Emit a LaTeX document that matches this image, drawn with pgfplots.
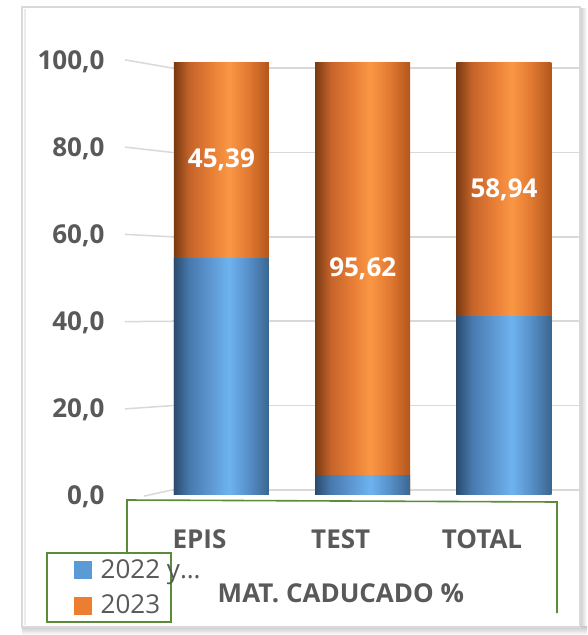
\documentclass[border=0pt]{standalone}
\usepackage{pgfplots}
\usepackage{pgfplotstable}
\pgfplotsset{compat=1.18}
\usepackage{fontspec}
\setmainfont{Open Sans}
\definecolor{gridc}{HTML}{D9D9D9}
\definecolor{tickc}{HTML}{595959}
\definecolor{greenb}{HTML}{5B8C3A}
\definecolor{cblue}{HTML}{5B9BD5}
\definecolor{corange}{HTML}{ED7D31}
\definecolor{oA}{HTML}{7A3A12}
\definecolor{oB}{HTML}{C4632A}
\definecolor{oC}{HTML}{E67C35}
\definecolor{oD}{HTML}{FA9744}
\definecolor{oE}{HTML}{E27A32}
\definecolor{oF}{HTML}{B2561C}
\definecolor{bA}{HTML}{2B4C6E}
\definecolor{bB}{HTML}{4779AD}
\definecolor{bC}{HTML}{5D97D2}
\definecolor{bD}{HTML}{6DB3EF}
\definecolor{bE}{HTML}{5890CA}
\definecolor{bF}{HTML}{3A6690}
\pgfdeclarehorizontalshading{ocyl}{100bp}{color(0bp)=(oA); color(25bp)=(oA); color(33bp)=(oB); color(44bp)=(oC); color(54bp)=(oD); color(64bp)=(oE); color(75bp)=(oF); color(100bp)=(oF)}
\pgfdeclarehorizontalshading{bcyl}{100bp}{color(0bp)=(bA); color(25bp)=(bA); color(33bp)=(bB); color(44bp)=(bC); color(54bp)=(bD); color(64bp)=(bE); color(75bp)=(bF); color(100bp)=(bF)}

% a = 2022 y..., b = 2023
\pgfplotstableread{
x a b lab
0 54.61 45.39 45,39
1 4.38 95.62 95,62
2 41.06 58.94 58,94
}\data

\begin{document}
\begin{tikzpicture}
\useasboundingbox (0,0) rectangle (587pt,-635pt);
\fill[white] (0,0) rectangle (587pt,-635pt);
% frame
\shade[left color=gray!45, right color=white] (579pt,-8pt) rectangle (587pt,-632pt);
\shade[top color=gray!45, bottom color=white] (22pt,-626pt) rectangle (587pt,-635pt);
\draw[gray!30, line width=1.5pt] (22pt,-7pt) rectangle (580pt,-627pt);
\draw[gray!15, line width=2pt] (25pt,-9pt) -- (25pt,-625pt);
% green box
\draw[greenb, line width=1.6pt] (127pt,-552pt) -- (127pt,-500pt) -- (557pt,-502pt) -- (557pt,-613pt);
% legend box
\draw[greenb, line width=1.6pt, fill=white] (47pt,-553pt) rectangle (171pt,-622pt);
\begin{axis}[
  at={(172pt,-494pt)}, anchor=south west,
  scale only axis, width=408pt, height=432pt,
  xmin=-0.350, xmax=2.538, ymin=0, ymax=100,
  clip=false,
  ybar, bar width=95pt, bar shift=0pt,
  axis line style={draw=none},
  major tick length=0pt,
  ymajorgrids, grid style={gridc, line width=1.5pt},
  % back-wall gridlines (perspective) sit slightly off the bar scale
  ytick={0.926,20.46,39.99,59.54,79.07,98.61},
  yticklabels={{0,0},{20,0},{40,0},{60,0},{80,0},{100,0}},
  xtick={0,1,2}, xticklabels={EPIS,TEST,TOTAL},
  yticklabel style={font=\fontsize{26}{30}\selectfont\bfseries, text=tickc, anchor=east, xshift=-64pt, yshift={-7pt+2.6pt*\ticknum}},
  xticklabel style={font=\fontsize{26}{30}\selectfont\bfseries, text=tickc, anchor=base, xshift=-22pt, yshift=-54pt},
  xlabel={MAT. CADUCADO \%},
  xlabel style={font=\fontsize{26}{30}\selectfont\bfseries, text=tickc, at={(axis description cs:0.414,-0.229)}, anchor=center},
  legend style={draw=none, fill=none, at={(axis description cs:-0.240,-0.147)}, anchor=north west,
    font=\fontsize{26}{30}\selectfont, text=tickc, row sep=11pt, inner sep=0pt,
    /tikz/every odd column/.append style={column sep=7pt}},
  legend cell align=left,
]
% perspective part of gridlines
\draw[gridc, line width=1.5pt] (axis cs:-0.683,100.5) -- (axis cs:-0.350,98.61);
\draw[gridc, line width=1.5pt] (axis cs:-0.683,80.3) -- (axis cs:-0.350,79.07);
\draw[gridc, line width=1.5pt] (axis cs:-0.683,60.1) -- (axis cs:-0.350,59.54);
\draw[gridc, line width=1.5pt] (axis cs:-0.683,39.9) -- (axis cs:-0.350,39.99);
\draw[gridc, line width=1.5pt] (axis cs:-0.683,19.7) -- (axis cs:-0.350,20.46);
\draw[gridc, line width=1.5pt] (axis cs:-0.55,-0.5) -- (axis cs:-0.350,0.926);
% 2023 segments (drawn full height a+b, the 2022 part covers the bottom)
\addplot[draw=none, shading=ocyl, forget plot, restrict x to domain=-0.1:0.1] table[x=x, y expr=\thisrow{a}+\thisrow{b}] {\data};
\addplot[draw=none, shading=ocyl, forget plot, restrict x to domain=0.9:1.1] table[x=x, y expr=\thisrow{a}+\thisrow{b}] {\data};
\addplot[draw=none, shading=ocyl, forget plot, restrict x to domain=1.9:2.1] table[x=x, y expr=\thisrow{a}+\thisrow{b}] {\data};
% 2022 y... segments
\addplot[draw=none, shading=bcyl, forget plot, restrict x to domain=-0.1:0.1] table[x=x, y=a] {\data};
\addplot[draw=none, shading=bcyl, forget plot, restrict x to domain=0.9:1.1] table[x=x, y=a] {\data};
\addplot[draw=none, shading=bcyl, forget plot, restrict x to domain=1.9:2.1] table[x=x, y=a] {\data};
% labels of 2023, in the middle of its segment
\addplot[draw=none, fill=none, forget plot, nodes near coords, point meta=explicit symbolic,
  every node near coord/.append style={font=\fontsize{26}{30}\selectfont\bfseries, text=white, anchor=center}]
  table[x=x, y expr=\thisrow{a}+0.5*\thisrow{b}, meta=lab] {\data};
\addlegendimage{legend image code/.code={\fill[cblue] (0pt,-8.5pt) rectangle (17pt,8.5pt);}}
\addlegendentry{2022 y…}
\addlegendimage{legend image code/.code={\fill[corange] (0pt,-8.5pt) rectangle (17pt,8.5pt);}}
\addlegendentry{2023}
\end{axis}
\end{tikzpicture}
\end{document}
